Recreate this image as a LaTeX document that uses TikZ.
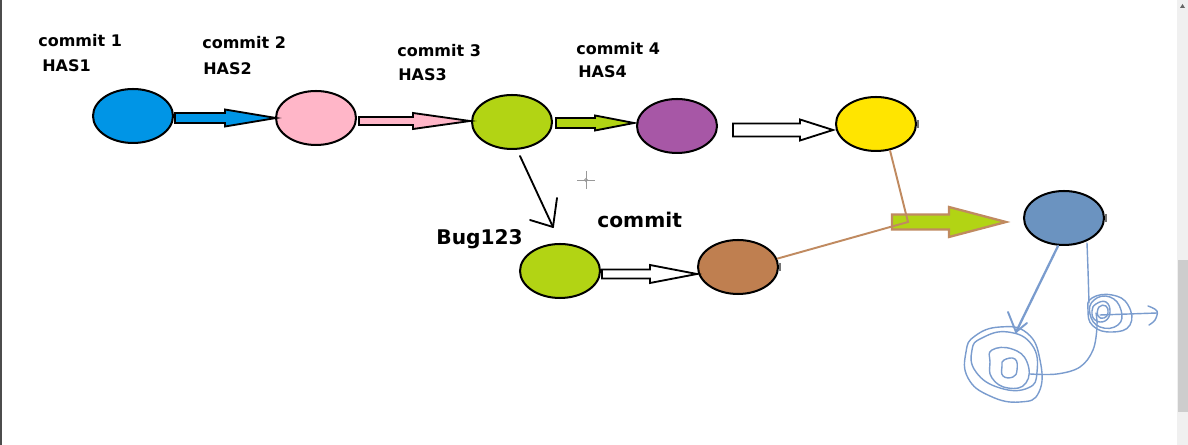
\documentclass[tikz,border=0pt]{standalone}
\usepackage{fontspec}
\setmainfont{DejaVu Sans}
\usetikzlibrary{shapes.geometric,calc}
\definecolor{cBlue}{HTML}{0095E6}
\definecolor{cPink}{HTML}{FFB6C8}
\definecolor{cLime}{HTML}{B2D414}
\definecolor{cPurple}{HTML}{A757A6}
\definecolor{cYellow}{HTML}{FFE500}
\definecolor{cSteel}{HTML}{6B93C0}
\definecolor{cBrown}{HTML}{BF7F50}
\definecolor{cLine}{HTML}{C08A60}
\definecolor{cScrib}{HTML}{7A9CCE}
\definecolor{cBar}{HTML}{F0F0F0}
\definecolor{cThumb}{HTML}{CDCDCD}
\newcommand\blockarr[7]{% style, x0, x1, y, shaft half, head half, head length
  \draw[#1] (#2,#4-#5) -- (#3-#7,#4-#5) -- (#3-#7,#4-#6) -- (#3,#4)
    -- (#3-#7,#4+#6) -- (#3-#7,#4+#5) -- (#2,#4+#5) -- cycle;}
\tikzset{
  commitnode/.style={ellipse, draw=black, line width=1.15pt, inner sep=0pt,
    minimum width=1.6cm, minimum height=1.08cm},
  smalllabel/.style={anchor=base west, inner sep=0pt,
    font=\fontsize{9.1}{11}\selectfont\bfseries},
  biglabel/.style={anchor=base west, inner sep=0pt,
    font=\fontsize{11.5}{14}\selectfont\bfseries},
  blockline/.style={draw=black, line width=1.05pt, line join=miter},
  scrib/.style={draw=cScrib, line width=0.8pt, line cap=round, line join=round},
  tick/.style={draw=black!55, line width=0.6pt},
}
\begin{document}
\begin{tikzpicture}[x=0.02cm, y=-0.02cm]
\useasboundingbox (0,0) rectangle (1188,445);
\fill[white] (0,0) rectangle (1188,445);
% left border and scrollbar
\draw[black!70, line width=1pt] (0.8,0) -- (0.8,445);
\fill[cBar] (1177,0) rectangle (1188,445);
\fill[cThumb] (1178,260) rectangle (1188,412);
\fill[black!60] (1180,8) -- (1182.5,4) -- (1185,8) -- cycle;

% commits
\node[commitnode, fill=cBlue]   (c1) at (133,116) {};
\node[commitnode, fill=cPink]   (c2) at (316,118) {};
\node[commitnode, fill=cLime]   (c3) at (512,122) {};
\node[commitnode, fill=cPurple] (c4) at (677,126) {};
\node[commitnode, fill=cYellow] (c5) at (876,124) {};
\node[commitnode, fill=cSteel]  (c6) at (1064,218) {};
\node[commitnode, fill=cLime]   (b1) at (560,271) {};
\node[commitnode, fill=cBrown]  (b2) at (738,267) {};

% labels
\node[smalllabel] (t1) at (38,47) {commit 1};
\node[smalllabel] (h1) at (42,72) {HAS1};
\node[smalllabel] (t2) at (202,49) {commit 2};
\node[smalllabel] (h2) at (203,75) {HAS2};
\node[smalllabel] (t3) at (397,57) {commit 3};
\node[smalllabel] (h3) at (398,81) {HAS3};
\node[smalllabel] (t4) at (576,55) {commit 4};
\node[smalllabel] (h4) at (578,78) {HAS4};
\node[biglabel] (tb) at (436,245) {Bug123};
\node[biglabel] (tc) at (597,228) {commit};

% block arrows
\blockarr{blockline, fill=cBlue}{175}{276}{118}{5}{8.5}{51}
\blockarr{blockline, fill=cPink}{359}{470}{121}{4}{8}{57}
\blockarr{blockline, fill=cLime}{556}{634}{123}{5}{7.5}{39}
\blockarr{blockline, fill=white}{733}{833}{130}{6.5}{10.5}{33}
\blockarr{blockline, fill=white}{602}{697}{274}{4.5}{9}{47}
\blockarr{draw=cLine, line width=1.3pt, fill=cLime}{892}{1006}{222}{7.5}{15}{57}

% brown merge lines
\coordinate (m) at (908,222);
\draw[cLine, line width=1.1pt] (c5.-62) -- (m) -- (b2.12);

% black branch arrow
\coordinate (bt) at (553,227);
\draw[black, line width=1.05pt, line cap=round] ($(c3.south)+(8,6)$) -- (bt);
\draw[black, line width=1.05pt, line cap=round] (bt) -- ++(-23,-7);
\draw[black, line width=1.05pt, line cap=round] (bt) -- ++(4,-29);

% blue arrow from last commit
\coordinate (st) at (1016,332);
\draw[cScrib, line width=1.3pt, line cap=round] ($(c6.south)+(-6,0)$) -- (st);
\draw[cScrib, line width=1.1pt, line cap=round] (st) -- (1008,312);
\draw[cScrib, line width=1.1pt, line cap=round] (st) -- (1027,323);

% scribbles
\draw[scrib] plot[smooth cycle, tension=0.8] coordinates
  {(975,336) (1000,327) (1027,333) (1040,360) (1039,392) (1020,402) (990,396) (968,378) (966,352)};
\draw[scrib] plot[smooth cycle, tension=0.8] coordinates
  {(982,338) (1008,332) (1032,345) (1037,372) (1028,388) (1000,388) (976,372) (972,350)};
\draw[scrib] plot[smooth cycle, tension=0.8] coordinates
  {(992,350) (1012,349) (1027,362) (1026,383) (1008,388) (992,378) (990,362)};
\draw[scrib] plot[smooth cycle, tension=0.8] coordinates
  {(1004,360) (1015,359) (1017,370) (1013,377) (1003,376) (1002,366)};
\draw[scrib] plot[smooth, tension=0.6] coordinates
  {(1030,374) (1057,374) (1080,367) (1093,350) (1097,327) (1096,313)};
\draw[scrib] plot[smooth, tension=0.6] coordinates
  {(1087,243) (1088,270) (1089,303)};
\draw[scrib] plot[smooth cycle, tension=0.8] coordinates
  {(1092,298) (1112,295) (1128,305) (1130,325) (1112,332) (1093,326) (1088,310)};
\draw[scrib] plot[smooth cycle, tension=0.8] coordinates
  {(1094,300) (1110,297) (1121,310) (1118,325) (1100,327) (1090,314)};
\draw[scrib] plot[smooth cycle, tension=0.8] coordinates
  {(1096,304) (1106,302) (1110,312) (1105,321) (1095,320) (1092,311)};
\draw[scrib] plot[smooth cycle, tension=0.8] coordinates
  {(1099,307) (1106,306) (1108,313) (1104,318) (1098,316)};
\draw[scrib] (1100,315) -- (1157,313);
\draw[scrib] plot[smooth, tension=0.6] coordinates
  {(1148,306) (1157,311) (1155,320) (1149,325)};

% small artifacts
\draw[tick] (918,120) -- (918,128);
\draw[tick] (1106,214) -- (1106,222);
\draw[tick] (780,263) -- (780,271);
\draw[black!40, line width=0.5pt] (577,180) -- (595,180) (586,171) -- (586,189);
\draw[black!40, line width=0.5pt] (586,180) circle (1.5);
\end{tikzpicture}
\end{document}
